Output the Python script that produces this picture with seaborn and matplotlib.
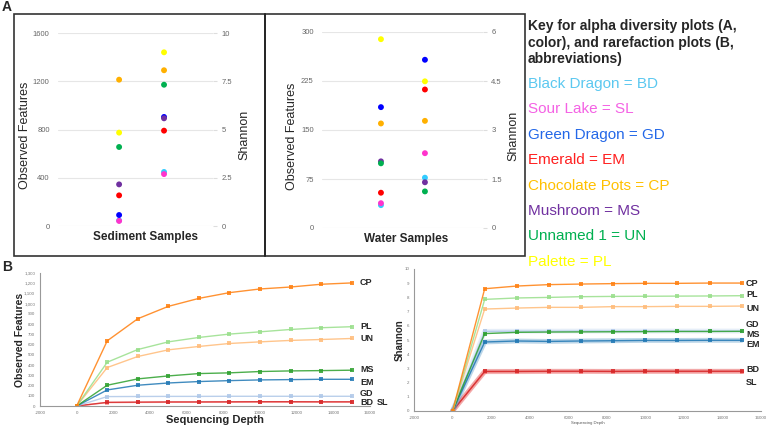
import matplotlib
matplotlib.use('Agg')
import matplotlib.pyplot as plt
import seaborn as sns
import pandas as pd
from matplotlib.patches import Rectangle
from matplotlib.lines import Line2D
from matplotlib.ticker import FuncFormatter

sns.set_style('white')
plt.rcParams['font.family'] = ['Liberation Sans', 'DejaVu Sans']

# ---- panel A: alpha diversity dots ----
sites = ['BD', 'SL', 'GD', 'EM', 'CP', 'MS', 'UN', 'PL']
dot_colors = ['#33ccff', '#ff33cc', '#0000ff', '#ff0000', '#ffb000', '#7030a0', '#00b050', '#ffff00']

sed_obs = [46, 42, 91, 254, 1213, 345, 655, 774]
sed_shannon = [2.80, 2.69, 5.65, 4.94, 8.07, 5.58, 7.32, 9.00]
water_obs = [35, 38, 185, 54, 160, 102, 99, 289]
water_shannon = [1.54, 2.29, 5.15, 4.24, 3.28, 1.40, 1.12, 4.49]

# ---- key ----
key_names = ['Black Dragon = BD', 'Sour Lake = SL', 'Green Dragon = GD', 'Emerald = EM',
             'Chocolate Pots = CP', 'Mushroom = MS', 'Unnamed 1 = UN', 'Palette = PL']
key_colors = ['#5bc8f0', '#f462e4', '#2468e8', '#ff2020', '#ffc000', '#7030a0', '#00b050', '#ffff00']

# ---- panel B: rarefaction ----
depth = [0, 1667, 3333, 5000, 6667, 8333, 10000, 11667, 13333, 15000]
rare_sites = ['CP', 'PL', 'UN', 'MS', 'EM', 'GD', 'BD', 'SL']
rare_colors = ['#ff7f0e', '#98df8a', '#ffbb78', '#2ca02c', '#1f77b4', '#aec7e8', '#d62728', '#ff9896']

obs_cp = [0, 637, 853, 974, 1052, 1108, 1144, 1163, 1190, 1203]
obs_pl = [0, 428, 552, 627, 670, 703, 725, 748, 765, 775]
obs_un = [0, 376, 484, 549, 582, 611, 627, 641, 650, 660]
obs_ms = [0, 203, 265, 294, 317, 324, 337, 343, 346, 350]
obs_em = [0, 157, 203, 225, 239, 248, 255, 258, 261, 261]
obs_gd = [0, 92, 93, 94, 94, 95, 95, 95, 95, 95]
obs_bd = [0, 36, 38, 40, 40, 41, 42, 42, 41, 41]
obs_sl = [0, 33, 35, 36, 37, 37, 38, 38, 38, 38]

shan_cp = [0, 8.61, 8.80, 8.90, 8.94, 8.97, 8.99, 8.99, 9.01, 9.01]
shan_pl = [0, 7.86, 7.96, 8.00, 8.05, 8.07, 8.08, 8.09, 8.10, 8.12]
shan_un = [0, 7.18, 7.25, 7.30, 7.30, 7.35, 7.35, 7.37, 7.37, 7.39]
shan_ms = [0, 5.45, 5.54, 5.56, 5.57, 5.58, 5.59, 5.60, 5.60, 5.61]
shan_em = [0, 4.86, 4.93, 4.90, 4.93, 4.95, 4.97, 4.97, 4.98, 4.98]
shan_gd = [0, 5.61, 5.62, 5.62, 5.63, 5.63, 5.63, 5.63, 5.63, 5.63]
shan_bd = [0, 2.79, 2.79, 2.80, 2.80, 2.79, 2.80, 2.80, 2.80, 2.80]
shan_sl = [0, 2.76, 2.77, 2.78, 2.78, 2.78, 2.78, 2.78, 2.78, 2.78]

W, H = 767, 429
fig = plt.figure(figsize=(W / 100, H / 100), dpi=100)


def box(x0, y0, x1, y1):
    # pixel box -> figure fraction rect
    return [x0 / W, 1 - y1 / H, (x1 - x0) / W, (y1 - y0) / H]


# frame around panel A
fig.add_artist(Rectangle((14 / W, 1 - 256 / H), (525 - 14) / W, (256 - 14) / H,
                         transform=fig.transFigure, fill=False, lw=1.2, ec='#333333'))
fig.add_artist(Line2D([265 / W, 265 / W], [1 - 256 / H, 1 - 14 / H],
                      transform=fig.transFigure, lw=1.4, color='#222222'))
fig.text(7 / W, 1 - 7 / H, 'A', fontsize=10, fontweight='bold', va='center', ha='center')
fig.text(7 / W, 1 - 267 / H, 'B', fontsize=10, fontweight='bold', va='center', ha='center')


def alpha_panel(rect, xlim, obs, shan, ymax, yticks, rticks, rlabels, xlab, xlab_x, lab_l, lab_r):
    ax = fig.add_axes(rect)
    df_o = pd.DataFrame({'x': [0] * len(sites), 'y': obs, 'site': sites})
    sns.scatterplot(data=df_o, x='x', y='y', hue='site', palette=dict(zip(sites, dot_colors)),
                    s=18, linewidth=0, legend=False, ax=ax, zorder=3)
    ax.set_xlim(*xlim)
    ax.set_ylim(0, ymax)
    ax.set_yticks(yticks)
    ax.set_xticks([])
    ax.grid(axis='y', color='#e6e6e6', lw=0.8)
    for s in ax.spines.values():
        s.set_visible(False)
    ax.tick_params(axis='y', length=0, labelsize=5.5, labelcolor='#666666', pad=6)
    ax.set_xlabel('')
    ax.set_ylabel('Observed Features', fontsize=9)
    ax.yaxis.set_label_coords(lab_l, 0.47)

    ax2 = ax.twinx()
    df_s = pd.DataFrame({'x': [1] * len(sites), 'y': shan, 'site': sites})
    sns.scatterplot(data=df_s, x='x', y='y', hue='site', palette=dict(zip(sites, dot_colors)),
                    s=18, linewidth=0, legend=False, ax=ax2, zorder=3)
    ax2.set_ylim(0, rticks[-1])
    ax2.set_yticks(rticks)
    ax2.set_yticklabels(rlabels)
    for s in ax2.spines.values():
        s.set_visible(False)
    ax2.tick_params(axis='y', length=3, color='#dddddd', labelsize=5.5, labelcolor='#666666', pad=3)
    ax2.set_ylabel('Shannon', fontsize=9)
    ax2.yaxis.set_label_coords(lab_r, 0.47)
    ax2.set_xlim(*xlim)
    ax2.set_xticks([])
    ax.text(xlab_x, -0.057, xlab, transform=ax.transAxes, fontsize=8.5, fontweight='bold',
            ha='center', va='center')


alpha_panel(box(58, 33, 213, 226), (-1.36, 2.09), sed_obs, sed_shannon, 1600,
            [0, 400, 800, 1200, 1600], [0, 2.5, 5, 7.5, 10], ['0', '2.5', '5', '7.5', '10'],
            'Sediment Samples', 0.565, -0.174, 1.167)
alpha_panel(box(322, 32, 483, 228), (-1.34, 2.32), water_obs, water_shannon, 300,
            [0, 75, 150, 225, 300], [0, 1.5, 3, 4.5, 6], ['0', '1.5', '3', '4.5', '6'],
            'Water Samples', 0.52, -0.149, 1.149)

# key text
for i, line in enumerate(['Key for alpha diversity plots (A,', 'color), and rarefaction plots (B,',
                          'abbreviations)']):
    fig.text(528 / W, 1 - (26 + 16.7 * i) / H, line, fontsize=10, fontweight='bold', va='center')
for i, (name, c) in enumerate(zip(key_names, key_colors)):
    fig.text(528 / W, 1 - (84 + 25.4 * i) / H, name, fontsize=11, color=c, va='center')


def rare_panel(rect, series, ymax, ystep, comma, bands):
    ax = fig.add_axes(rect)
    rows = []
    for site, vals in zip(rare_sites, series):
        for d, v in zip(depth, vals):
            rows.append({'depth': d, 'value': v, 'site': site})
    df = pd.DataFrame(rows)
    pal = dict(zip(rare_sites, rare_colors))
    for site in reversed(rare_sites):
        sub = df[df.site == site]
        if site in bands:
            sns.lineplot(data=sub, x='depth', y='value', color=pal[site], lw=3.5, alpha=0.3,
                         ax=ax, legend=False)
        sns.lineplot(data=sub, x='depth', y='value', color=pal[site], lw=1.0, alpha=0.85,
                     marker='s', markersize=2.5, markeredgewidth=0, ax=ax, legend=False)
    ax.set_xlim(-2000, 16000)
    ax.set_ylim(0, ymax)
    ax.set_xticks(range(-2000, 16001, 2000))
    ax.set_yticks([i * ystep for i in range(int(round(ymax / ystep)) + 1)])
    if comma:
        ax.yaxis.set_major_formatter(FuncFormatter(lambda v, p: f'{int(v):,}'))
    else:
        ax.yaxis.set_major_formatter(FuncFormatter(lambda v, p: f'{int(v)}'))
    ax.xaxis.set_major_formatter(FuncFormatter(lambda v, p: f'{int(v)}'))
    ax.tick_params(length=2, width=0.5, color='#999999', labelsize=3.2, labelcolor='#777777', pad=1.5)
    for k in ['top', 'right']:
        ax.spines[k].set_visible(False)
    for k in ['left', 'bottom']:
        ax.spines[k].set_color('#999999')
        ax.spines[k].set_linewidth(0.8)
    ax.set_ylabel('')
    ax.set_xlabel('')
    return ax


ax3 = rare_panel(box(40, 273, 370, 406),
                 [obs_cp, obs_pl, obs_un, obs_ms, obs_em, obs_gd, obs_bd, obs_sl],
                 1300, 100, True, [])
ax3.text(-0.06, 0.5, 'Observed Features', transform=ax3.transAxes, rotation=90, fontsize=7.5,
         fontweight='bold', ha='center', va='center')
ax3.text(0.53, -0.105, 'Sequencing Depth', transform=ax3.transAxes, fontsize=8,
         fontweight='bold', ha='center', va='center')
for lab, yy in zip(['CP', 'PL', 'UN', 'MS', 'EM', 'GD', 'BD'],
                   [0.925, 0.594, 0.504, 0.278, 0.178, 0.095, 0.03]):
    ax3.text(0.97, yy, lab, transform=ax3.transAxes, fontsize=6.5, fontweight='bold', va='center')
ax3.text(1.021, 0.03, 'SL', transform=ax3.transAxes, fontsize=6.5, fontweight='bold', va='center')

ax4 = rare_panel(box(414, 269, 761, 411),
                 [shan_cp, shan_pl, shan_un, shan_ms, shan_em, shan_gd, shan_bd, shan_sl],
                 10, 1, False, ['GD', 'EM', 'SL', 'BD'])
ax4.text(-0.04, 0.5, 'Shannon', transform=ax4.transAxes, rotation=90, fontsize=7,
         fontweight='bold', ha='center', va='center')
ax4.text(0.5, -0.085, 'Sequencing Depth', transform=ax4.transAxes, fontsize=3,
         ha='center', va='center', color='#555555')
for lab, yy in zip(['CP', 'PL', 'UN', 'GD', 'MS', 'EM', 'BD', 'SL'],
                   [0.901, 0.817, 0.725, 0.606, 0.542, 0.465, 0.289, 0.204]):
    ax4.text(0.957, yy, lab, transform=ax4.transAxes, fontsize=6.5, fontweight='bold', va='center')

fig.savefig('out.png', dpi=100)
